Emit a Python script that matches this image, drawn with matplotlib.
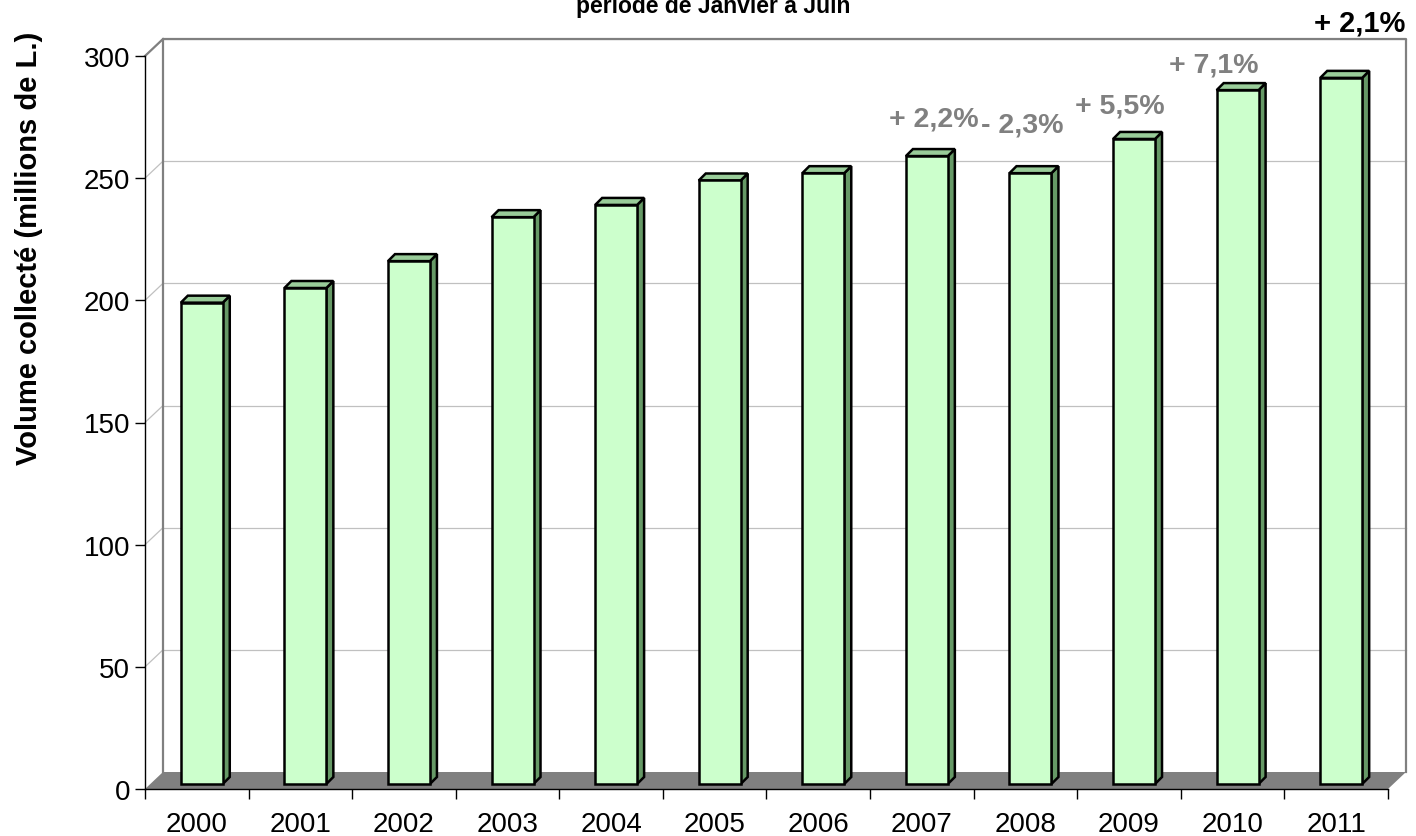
"""
Volume collecté de janvier à juin, 2000-2011 : histogramme façon Excel 3D.
"""
import matplotlib
matplotlib.use("Agg")
import matplotlib.pyplot as plt
import matplotlib.transforms as mtransforms
from matplotlib.patches import Polygon

plt.rcParams["font.family"] = ["Liberation Sans", "DejaVu Sans"]

# Data
years = ["2000", "2001", "2002", "2003", "2004", "2005",
         "2006", "2007", "2008", "2009", "2010", "2011"]
volumes = [197, 203, 214, 232, 237, 247, 250, 257, 250, 264, 284, 289]
y_ticks = [0, 50, 100, 150, 200, 250, 300]

growth_labels = ["+ 2,2%", "- 2,3%", "+ 5,5%", "+ 7,1%", "+ 2,1%"]
growth_x = [7.12, 7.97, 8.91, 9.82, 11.23]
growth_y = [271.4, 269.3, 276.7, 293.5, 310.3]
growth_colors = ["#808080", "#808080", "#808080", "#808080", "black"]

title = "période de Janvier à Juin"
ylabel = "Volume collecté (millions de L.)"

# Colours
c_front = "#CCFFCC"
c_top = "#99CC99"
c_side = "#669966"
c_floor = "#808080"
c_wall = "#808080"
c_grid = "#C0C0C0"

DPI = 100
fig = plt.figure(figsize=(14.16, 8.37), dpi=DPI)
W, H = 1416, 837
ax = fig.add_axes([145 / W, (H - 790) / H, (1388 - 145) / W, (790 - 57) / H])

n = len(years)
x_lo, x_hi = -0.5, n - 0.5
ax.set_xlim(x_lo, x_hi)
ax.set_ylim(0, 300)


def depth(dx, dy):
    """Data transform pushed back by (dx, dy) pixels to fake 3D depth."""
    return ax.transData + mtransforms.ScaledTranslation(dx / DPI, dy / DPI, fig.dpi_scale_trans)


front = depth(0, 0)
wall = depth(18, 17)
bar_f = depth(5, 5)
bar_b = depth(12, 12)


def poly(points, transforms, **kw):
    # points given in data coords, each with its own depth transform
    disp = [t.transform(p) for p, t in zip(points, transforms)]
    p = Polygon(disp, closed=True, transform=None, clip_on=False, **kw)
    ax.add_artist(p)
    return p


# Back wall gridlines + diagonals on the side wall
for yv in y_ticks[1:]:
    ax.plot([x_lo, x_hi], [yv, yv], color=c_grid, lw=0.9, transform=wall, clip_on=False, zorder=0.5)
    p0 = front.transform((x_lo, yv))
    p1 = wall.transform((x_lo, yv))
    ax.plot([p0[0], p1[0]], [p0[1], p1[1]], color=c_grid, lw=0.9, transform=None, clip_on=False, zorder=0.5)

# Back wall outline
ax.plot([x_lo, x_lo, x_hi, x_hi], [0, 300, 300, 0], color=c_wall, lw=1.6,
        transform=wall, clip_on=False, zorder=0.6)
p0 = front.transform((x_lo, 300))
p1 = wall.transform((x_lo, 300))
ax.plot([p0[0], p1[0]], [p0[1], p1[1]], color=c_wall, lw=1.6, transform=None, clip_on=False, zorder=0.6)

# Floor
poly([(x_lo, 0), (x_hi, 0), (x_hi, 0), (x_lo, 0)], [front, front, wall, wall],
     facecolor=c_floor, edgecolor="none", zorder=1)

# Bars
bw = 0.405
for i, v in enumerate(volumes):
    x0, x1 = i - bw / 2, i + bw / 2
    kw = dict(edgecolor="black", linewidth=1.8, joinstyle="miter", zorder=3)
    poly([(x1, 0), (x1, v), (x1, v), (x1, 0)], [bar_f, bar_f, bar_b, bar_b], facecolor=c_side, **kw)
    poly([(x0, v), (x1, v), (x1, v), (x0, v)], [bar_f, bar_f, bar_b, bar_b], facecolor=c_top, **kw)
    poly([(x0, 0), (x1, 0), (x1, v), (x0, v)], [bar_f] * 4, facecolor=c_front, **kw)

# Growth annotations
for lab, gx, gy, gc in zip(growth_labels, growth_x, growth_y, growth_colors):
    ax.text(gx, gy, lab, ha="center", va="baseline", fontsize=20.5 if gc != "black" else 21,
            fontweight="bold", color=gc, clip_on=False, zorder=4)

# Axes styling
ax.patch.set_visible(False)
for s in ["top", "right"]:
    ax.spines[s].set_visible(False)
for s in ["left", "bottom"]:
    ax.spines[s].set_color("black")
    ax.spines[s].set_linewidth(1.0)
    ax.spines[s].set_zorder(2.5)

ax.set_yticks(y_ticks)
ax.tick_params(axis="y", direction="out", length=7.2, width=1, pad=3.6, labelsize=20, colors="black")
ax.set_xticks([i - 0.5 for i in range(n + 1)])
ax.set_xticklabels([])
ax.set_xticks(range(n), minor=True)
ax.set_xticklabels(years, minor=True)
ax.tick_params(axis="x", which="major", direction="out", length=7.2, width=1)
ax.tick_params(axis="x", which="minor", length=0, pad=16, labelsize=20)

fig.text(29 / W, 1 - 248 / H, ylabel, rotation=90, ha="center", va="center",
         fontsize=21, fontweight="bold")
# first title line lies above the canvas in the reference; only this one shows
fig.text(713 / W, 1 - 13 / H, title, ha="center", va="baseline", fontsize=16.5, fontweight="bold")

fig.savefig("out.png", dpi=DPI)
plt.close(fig)
